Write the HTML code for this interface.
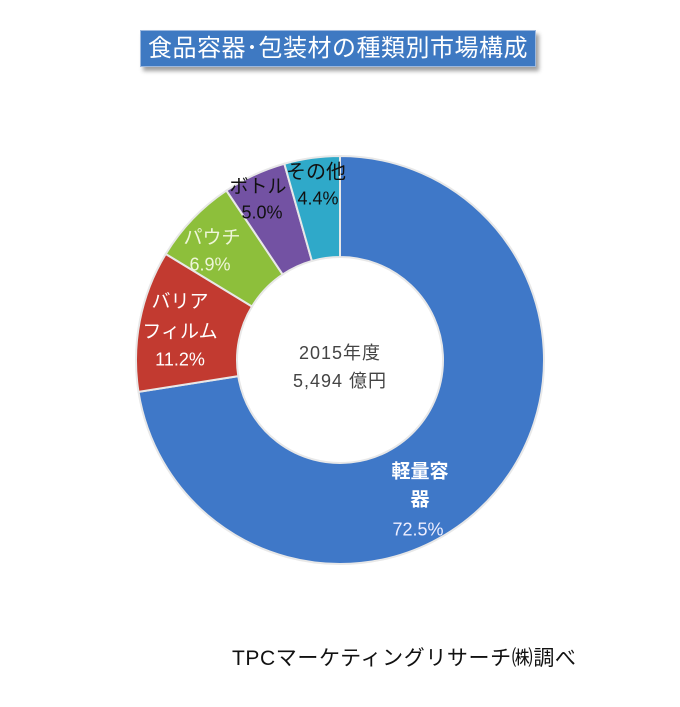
<!DOCTYPE html>
<html><head><meta charset="utf-8"><style>
body{margin:0;background:#fff;width:680px;height:707px;overflow:hidden;position:relative;font-family:"Liberation Sans","Noto Sans CJK JP",sans-serif}
.t{position:absolute;white-space:nowrap;transform:translate(-50%,-50%)}
</style></head><body>
<div style="position:absolute;left:140px;top:30px;width:394px;height:35px;background:#3e79c2;border:1px solid #9cb8de;box-shadow:3px 4px 4px #a0a0a0;color:#fff;font-size:24px;line-height:35px;text-align:center;letter-spacing:0.5px">食品容器･包装材の種類別市場構成</div>
<svg id="s" width="680" height="707" style="position:absolute;left:0;top:0"></svg>
<div class="t" style="left:340px;top:352px;font-size:18px;color:#444;letter-spacing:1px">2015年度</div>
<div class="t" style="left:340px;top:380px;font-size:18px;color:#444;letter-spacing:1px">5,494 億円</div>
<div class="t" style="left:420px;top:470px;font-size:19px;color:#fff;font-weight:bold">軽量容</div>
<div class="t" style="left:420px;top:498px;font-size:19px;color:#fff;font-weight:bold">器</div>
<div class="t" style="left:418px;top:530px;font-size:18px;color:#eef">72.5%</div>
<div class="t" style="left:180px;top:300px;font-size:19px;color:#fff">バリア</div>
<div class="t" style="left:180px;top:330px;font-size:19px;color:#fff">フィルム</div>
<div class="t" style="left:180px;top:360px;font-size:18px;color:#fff">11.2%</div>
<div class="t" style="left:212px;top:236px;font-size:19px;color:#eef6d8">パウチ</div>
<div class="t" style="left:210px;top:265px;font-size:18px;color:#eef6d8">6.9%</div>
<div class="t" style="left:258px;top:185px;font-size:19px;color:#111">ボトル</div>
<div class="t" style="left:262px;top:213px;font-size:18px;color:#111">5.0%</div>
<div class="t" style="left:316px;top:170px;font-size:20px;color:#111">その他</div>
<div class="t" style="left:318px;top:199px;font-size:18px;color:#111">4.4%</div>
<div style="position:absolute;left:232px;top:642px;font-size:21px;color:#111;white-space:nowrap;letter-spacing:0.6px">TPCマーケティングリサーチ㈱調べ</div>
<script>
var cx=340,cy=360,R=204,r=103;
var d=[[72.5,'#3f78c8'],[11.2,'#c23a30'],[6.9,'#8dbf3b'],[5.0,'#7352a3'],[4.4,'#2fa9c9']];
function p(a,rr){a=a*Math.PI/180;return (cx+rr*Math.sin(a)).toFixed(2)+','+(cy-rr*Math.cos(a)).toFixed(2);}
var s='',a0=0;
d.forEach(function(e){var a1=a0+e[0]*3.6;var lg=(a1-a0)>180?1:0;
s+='<path d="M'+p(a0,R)+' A'+R+','+R+' 0 '+lg+' 1 '+p(a1,R)+' L'+p(a1,r)+' A'+r+','+r+' 0 '+lg+' 0 '+p(a0,r)+' Z" fill="'+e[1]+'" stroke="#e8e8e8" stroke-width="2"/>';a0=a1;});
document.getElementById('s').innerHTML=s;
</script>
</body></html>
